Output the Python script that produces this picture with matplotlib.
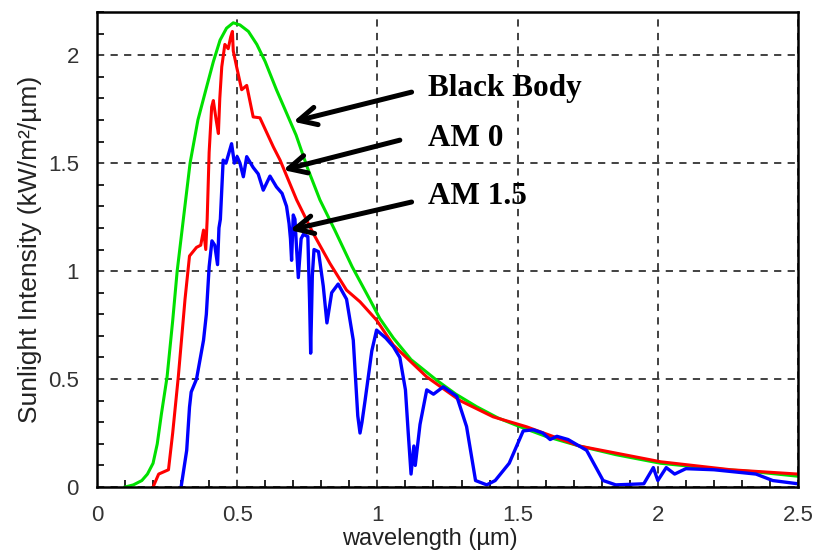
import matplotlib
matplotlib.use("Agg")
import matplotlib.pyplot as plt
from matplotlib.ticker import MultipleLocator

# ---- data ----
bb_x = [0.10, 0.13, 0.16, 0.18, 0.20, 0.215, 0.23, 0.25, 0.27, 0.286, 0.308, 0.332,
        0.36, 0.391, 0.415, 0.439, 0.462, 0.486, 0.51, 0.54, 0.57, 0.60, 0.64, 0.68,
        0.71, 0.75, 0.795, 0.848, 0.91, 0.974, 1.009, 1.057, 1.12, 1.211, 1.28, 1.354,
        1.43, 1.509, 1.60, 1.72, 1.85, 2.01, 2.2, 2.35, 2.5]
bb_y = [0.0, 0.01, 0.03, 0.06, 0.11, 0.20, 0.34, 0.51, 0.77, 1.00, 1.24, 1.50,
        1.70, 1.853, 1.97, 2.07, 2.125, 2.15, 2.14, 2.11, 2.05, 1.97, 1.84, 1.72,
        1.63, 1.48, 1.33, 1.19, 1.02, 0.866, 0.78, 0.69, 0.59, 0.495, 0.43, 0.372,
        0.32, 0.279, 0.235, 0.19, 0.15, 0.11, 0.085, 0.07, 0.05]

am0_x = [0.20, 0.22, 0.255, 0.27, 0.29, 0.314, 0.33, 0.355, 0.37, 0.38, 0.388, 0.393,
         0.40, 0.409, 0.415, 0.425, 0.433, 0.438, 0.445, 0.456, 0.468, 0.477, 0.483,
         0.486, 0.498, 0.516, 0.534, 0.557, 0.581, 0.629, 0.653, 0.712, 0.771, 0.831,
         0.89, 0.938, 0.997, 1.057, 1.176, 1.295, 1.413, 1.532, 1.72, 2.01, 2.26, 2.5]
am0_y = [0.0, 0.06, 0.08, 0.25, 0.51, 0.87, 1.07, 1.11, 1.12, 1.19, 1.10, 1.24,
         1.55, 1.76, 1.79, 1.70, 1.637, 1.80, 1.946, 2.05, 2.03, 2.085, 2.11,
         2.02, 1.946, 1.84, 1.86, 1.714, 1.71, 1.575, 1.514, 1.33, 1.175, 1.035,
         0.912, 0.858, 0.773, 0.657, 0.51, 0.40, 0.325, 0.279, 0.19, 0.117, 0.08, 0.06]

am15_x = [0.30, 0.32, 0.33, 0.336, 0.355, 0.38, 0.39, 0.40, 0.41, 0.42, 0.43, 0.435,
          0.44, 0.45, 0.46, 0.48, 0.49, 0.50, 0.51, 0.522, 0.534, 0.557, 0.575, 0.593,
          0.617, 0.64, 0.66, 0.676, 0.685, 0.69, 0.694, 0.70, 0.706, 0.712, 0.718,
          0.728, 0.736, 0.752, 0.758, 0.762, 0.768, 0.774, 0.79, 0.807, 0.82, 0.837,
          0.86, 0.89, 0.914, 0.93, 0.938, 0.945, 0.956, 0.98, 0.997, 1.03, 1.057,
          1.08, 1.10, 1.11, 1.12, 1.13, 1.135, 1.152, 1.176, 1.20, 1.235, 1.283,
          1.318, 1.35, 1.39, 1.42, 1.47, 1.52, 1.556, 1.59, 1.616, 1.64, 1.68,
          1.746, 1.805, 1.85, 1.95, 1.984, 2.0, 2.03, 2.06, 2.10, 2.2, 2.35, 2.41, 2.5]
am15_y = [0.0, 0.17, 0.37, 0.44, 0.50, 0.68, 0.80, 1.02, 1.14, 1.12, 1.03, 1.20,
          1.24, 1.514, 1.50, 1.59, 1.50, 1.53, 1.50, 1.437, 1.53, 1.48, 1.45, 1.375,
          1.44, 1.39, 1.36, 1.30, 1.22, 1.15, 1.05, 1.26, 1.24, 1.10, 0.97,
          1.15, 1.17, 1.16, 0.87, 0.62, 0.98, 1.10, 1.09, 0.93, 0.76, 0.90,
          0.94, 0.87, 0.68, 0.33, 0.25, 0.30, 0.40, 0.63, 0.727, 0.69, 0.65,
          0.60, 0.45, 0.25, 0.06, 0.19, 0.10, 0.29, 0.45, 0.43, 0.464, 0.42,
          0.28, 0.03, 0.01, 0.03, 0.11, 0.26, 0.265, 0.25, 0.22, 0.235, 0.22,
          0.17, 0.03, 0.01, 0.015, 0.09, 0.03, 0.09, 0.06, 0.085, 0.08, 0.06, 0.03, 0.015]

labels = ["Black Body", "AM 0", "AM 1.5"]
label_pos = [(1.18, 1.847), (1.18, 1.616), (1.18, 1.344)]
arrow_tail = [(1.122, 1.829), (1.08, 1.6065), (1.122, 1.32)]
arrow_head = [(0.70, 1.692), (0.664, 1.468), (0.688, 1.190)]

x_ticks = [0, 0.5, 1, 1.5, 2, 2.5]
x_ticklabels = ["0", "0.5", "1", "1.5", "2", "2.5"]
y_ticks = [0, 0.5, 1, 1.5, 2]
y_ticklabels = ["0", "0.5", "1", "1.5", "2"]

plt.rcParams['font.family'] = ['Liberation Sans', 'DejaVu Sans']

fig = plt.figure(figsize=(8.19, 5.53), dpi=100)
ax = fig.add_axes([0.1184, 0.1193, 0.8560, 0.8590])

ax.plot(bb_x, bb_y, color='#00e000', lw=2.2, zorder=3)
ax.plot(am0_x, am0_y, color='#ff0000', lw=2.2, zorder=4)
ax.plot(am15_x, am15_y, color='#0000ff', lw=2.4, zorder=5)

ax.set_xlim(0, 2.5)
ax.set_ylim(0, 2.2)
ax.set_xticks(x_ticks)
ax.set_xticklabels(x_ticklabels)
ax.set_yticks(y_ticks)
ax.set_yticklabels(y_ticklabels)
ax.xaxis.set_minor_locator(MultipleLocator(0.1))
ax.yaxis.set_minor_locator(MultipleLocator(0.1))
ax.tick_params(which='both', direction='in', top=False, right=False,
               labelsize=16, labelcolor='#333333', pad=13)
ax.tick_params(which='major', length=0)
ax.tick_params(which='minor', length=5, width=1.2)

ax.grid(True, which='major', color='#333333', linestyle=(0, (4, 3.5)), lw=1.3)

for sp in ax.spines.values():
    sp.set_linewidth(1.8)
    sp.set_color('black')
    sp.set_zorder(6)

ax.set_xlabel("wavelength (\u00b5m)", fontsize=17, color='#222222')
ax.xaxis.label.set_verticalalignment('center')
ax.xaxis.set_label_coords(0.475, -0.109)
ax.set_ylabel("Sunlight Intensity (kW/m\u00b2/\u00b5m)", fontsize=19, color='#222222', labelpad=4)

for lab, pos, tail, head in zip(labels, label_pos, arrow_tail, arrow_head):
    ax.text(pos[0], pos[1], lab, fontsize=22.5, fontweight='bold',
            family=['Liberation Serif', 'DejaVu Serif'], ha='left', va='center', zorder=7)
    ax.annotate("", xy=head, xytext=tail,
                arrowprops=dict(arrowstyle='->', lw=3.6, color='black',
                                mutation_scale=32, shrinkA=0, shrinkB=0),
                zorder=7)

fig.savefig("out.png", dpi=100)
